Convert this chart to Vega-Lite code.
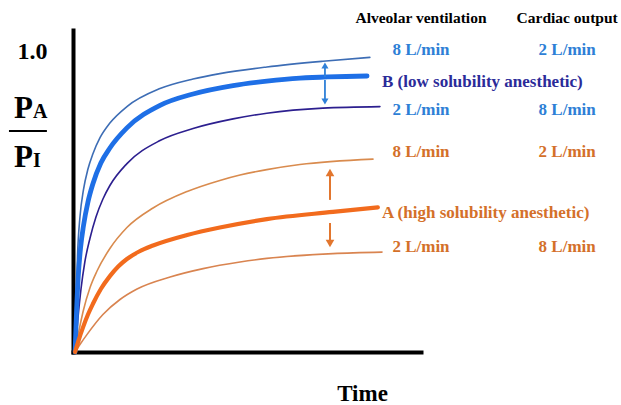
{
  "$schema": "https://vega.github.io/schema/vega-lite/v6.json",
  "width": 348,
  "height": 322,
  "autosize": {"type": "none"},
  "padding": {"left": 73, "top": 30, "right": 200, "bottom": 53},
  "background": "white",
  "config": {"view": {"stroke": null}},
  "datasets": {
    "curves": [
      {"series": "c1", "t": 0.6, "v": 0},
      {"series": "c1", "t": 0.9, "v": 0.15},
      {"series": "c1", "t": 1.3, "v": 0.32},
      {"series": "c1", "t": 2.0, "v": 0.45},
      {"series": "c1", "t": 3.0, "v": 0.54},
      {"series": "c1", "t": 4.3, "v": 0.61},
      {"series": "c1", "t": 5.7, "v": 0.66},
      {"series": "c1", "t": 7.8, "v": 0.715},
      {"series": "c1", "t": 10.6, "v": 0.763},
      {"series": "c1", "t": 15.5, "v": 0.818},
      {"series": "c1", "t": 25, "v": 0.878},
      {"series": "c1", "t": 34.5, "v": 0.91},
      {"series": "c1", "t": 42.2, "v": 0.928},
      {"series": "c1", "t": 55.7, "v": 0.95},
      {"series": "c1", "t": 71.8, "v": 0.969},
      {"series": "c1", "t": 85.3, "v": 0.982},
      {"series": "c2", "t": 0.6, "v": 0},
      {"series": "c2", "t": 1.0, "v": 0.13},
      {"series": "c2", "t": 1.5, "v": 0.25},
      {"series": "c2", "t": 2.2, "v": 0.35},
      {"series": "c2", "t": 3.0, "v": 0.42},
      {"series": "c2", "t": 4.3, "v": 0.5},
      {"series": "c2", "t": 5.7, "v": 0.56},
      {"series": "c2", "t": 8.0, "v": 0.63},
      {"series": "c2", "t": 10.6, "v": 0.68},
      {"series": "c2", "t": 15.5, "v": 0.747},
      {"series": "c2", "t": 25, "v": 0.822},
      {"series": "c2", "t": 34.5, "v": 0.86},
      {"series": "c2", "t": 46, "v": 0.888},
      {"series": "c2", "t": 55.7, "v": 0.903},
      {"series": "c2", "t": 65.2, "v": 0.913},
      {"series": "c2", "t": 84.5, "v": 0.92},
      {"series": "c3", "t": 0.6, "v": 0},
      {"series": "c3", "t": 1.4, "v": 0.11},
      {"series": "c3", "t": 2.3, "v": 0.21},
      {"series": "c3", "t": 3.4, "v": 0.3},
      {"series": "c3", "t": 4.9, "v": 0.38},
      {"series": "c3", "t": 6.6, "v": 0.45},
      {"series": "c3", "t": 8.6, "v": 0.51},
      {"series": "c3", "t": 10.6, "v": 0.555},
      {"series": "c3", "t": 15.5, "v": 0.628},
      {"series": "c3", "t": 25, "v": 0.705},
      {"series": "c3", "t": 34.5, "v": 0.745},
      {"series": "c3", "t": 46, "v": 0.777},
      {"series": "c3", "t": 55.7, "v": 0.796},
      {"series": "c3", "t": 71.8, "v": 0.813},
      {"series": "c3", "t": 88.2, "v": 0.818},
      {"series": "c4", "t": 0.6, "v": 0},
      {"series": "c4", "t": 1.7, "v": 0.07},
      {"series": "c4", "t": 2.9, "v": 0.135},
      {"series": "c4", "t": 4.9, "v": 0.215},
      {"series": "c4", "t": 6.9, "v": 0.27},
      {"series": "c4", "t": 10.6, "v": 0.345},
      {"series": "c4", "t": 15.5, "v": 0.415},
      {"series": "c4", "t": 23, "v": 0.48},
      {"series": "c4", "t": 32.8, "v": 0.535},
      {"series": "c4", "t": 42.2, "v": 0.572},
      {"series": "c4", "t": 48, "v": 0.59},
      {"series": "c4", "t": 55.7, "v": 0.608},
      {"series": "c4", "t": 65.2, "v": 0.625},
      {"series": "c4", "t": 86.2, "v": 0.643},
      {"series": "c5", "t": 0.6, "v": 0},
      {"series": "c5", "t": 1.5, "v": 0.035},
      {"series": "c5", "t": 2.9, "v": 0.083},
      {"series": "c5", "t": 4.3, "v": 0.125},
      {"series": "c5", "t": 5.7, "v": 0.16},
      {"series": "c5", "t": 8.0, "v": 0.21},
      {"series": "c5", "t": 10.6, "v": 0.253},
      {"series": "c5", "t": 13.0, "v": 0.285},
      {"series": "c5", "t": 15.5, "v": 0.31},
      {"series": "c5", "t": 19.0, "v": 0.335},
      {"series": "c5", "t": 23, "v": 0.355},
      {"series": "c5", "t": 32.8, "v": 0.39},
      {"series": "c5", "t": 42.2, "v": 0.415},
      {"series": "c5", "t": 55.7, "v": 0.443},
      {"series": "c5", "t": 74.7, "v": 0.467},
      {"series": "c5", "t": 87.6, "v": 0.482},
      {"series": "c6", "t": 0.6, "v": 0},
      {"series": "c6", "t": 2.0, "v": 0.025},
      {"series": "c6", "t": 4.0, "v": 0.058},
      {"series": "c6", "t": 8.6, "v": 0.125},
      {"series": "c6", "t": 13.5, "v": 0.175},
      {"series": "c6", "t": 18.4, "v": 0.21},
      {"series": "c6", "t": 27.9, "v": 0.25},
      {"series": "c6", "t": 37.4, "v": 0.278},
      {"series": "c6", "t": 48, "v": 0.3},
      {"series": "c6", "t": 55.7, "v": 0.312},
      {"series": "c6", "t": 74.7, "v": 0.328},
      {"series": "c6", "t": 88.8, "v": 0.333}
    ],
    "shafts": [
      {"group": "blue", "t": 72.4, "v1": 0.917, "v2": 0.955},
      {"group": "blue", "t": 72.4, "v1": 0.907, "v2": 0.835},
      {"group": "orange", "t": 73.85, "v1": 0.507, "v2": 0.598},
      {"group": "orange", "t": 73.85, "v1": 0.43, "v2": 0.362}
    ],
    "heads": [
      {"group": "blue", "dir": "up", "t": 72.4, "v": 0.955},
      {"group": "blue", "dir": "down", "t": 72.4, "v": 0.835},
      {"group": "orange", "dir": "up", "t": 73.85, "v": 0.598},
      {"group": "orange", "dir": "down", "t": 73.85, "v": 0.362}
    ],
    "labels": [
      {"role": "header", "text": "Alveolar ventilation", "t": 100, "v": 1.097},
      {"role": "header", "text": "Cardiac output", "t": 142, "v": 1.097},
      {"role": "blue", "text": "8 L/min", "t": 100, "v": 0.99},
      {"role": "blue", "text": "2 L/min", "t": 142, "v": 0.99},
      {"role": "blue", "text": "2 L/min", "t": 100, "v": 0.79},
      {"role": "blue", "text": "8 L/min", "t": 142, "v": 0.79},
      {"role": "bname", "text": "B (low solubility anesthetic)", "t": 88.8, "v": 0.883},
      {"role": "orange", "text": "8 L/min", "t": 100, "v": 0.65},
      {"role": "orange", "text": "2 L/min", "t": 142, "v": 0.65},
      {"role": "orange", "text": "2 L/min", "t": 100, "v": 0.333},
      {"role": "orange", "text": "8 L/min", "t": 142, "v": 0.333},
      {"role": "aname", "text": "A (high solubility anesthetic)", "t": 88.8, "v": 0.447},
      {"role": "big", "text": "P", "t": -11.5, "v": 0.78},
      {"role": "sub", "text": "A", "t": -11.5, "v": 0.78},
      {"role": "big", "text": "P", "t": -11.5, "v": 0.617},
      {"role": "sub", "text": "I", "t": -11.5, "v": 0.617}
    ],
    "fraction": [
      {"t1": -18.4, "t2": -7.5, "v": 0.737}
    ]
  },
  "layer": [
    {
      "data": {"name": "curves"},
      "transform": [{"filter": "datum.series !== 'c2' && datum.series !== 'c5'"}],
      "mark": {"type": "line", "interpolate": "monotone", "strokeCap": "round", "strokeWidth": 1.6},
      "encoding": {
        "x": {"field": "t", "type": "quantitative", "scale": {"domain": [0, 100], "nice": false, "zero": false},
              "axis": {"title": "Time", "labels": false, "ticks": false, "grid": false, "domainColor": "black", "domainWidth": 4, "domainCap": "square",
                       "titleFont": "Liberation Serif", "titleFontWeight": "bold", "titleFontSize": 23, "titleColor": "black",
                       "titleAnchor": null, "titleAlign": "center", "titleBaseline": "alphabetic", "titleX": 289, "titleY": 48}},
        "y": {"field": "v", "type": "quantitative", "scale": {"domain": [0, 1.0733], "nice": false},
              "axis": {"title": null, "values": [1], "format": ".1f", "ticks": false, "tickSize": 0, "grid": false, "labelPadding": 26,
                       "domainColor": "black", "domainWidth": 4, "domainCap": "square",
                       "labelFont": "Liberation Serif", "labelFontWeight": "bold", "labelFontSize": 24, "labelColor": "black"}},
        "detail": {"field": "series"},
        "color": {"field": "series", "type": "nominal", "legend": null,
                  "scale": {"domain": ["c1", "c2", "c3", "c4", "c5", "c6"], "range": ["#3d6db5", "#1e6fe6", "#2c1f8f", "#d98b4e", "#f26b1d", "#d98450"]}}
      }
    },
    {
      "data": {"name": "curves"},
      "transform": [{"filter": "datum.series === 'c2'"}],
      "mark": {"type": "line", "interpolate": "monotone", "strokeCap": "round", "strokeWidth": 4.8},
      "encoding": {
        "x": {"field": "t", "type": "quantitative"},
        "y": {"field": "v", "type": "quantitative"},
        "color": {"field": "series", "type": "nominal", "legend": null}
      }
    },
    {
      "data": {"name": "curves"},
      "transform": [{"filter": "datum.series === 'c5'"}],
      "mark": {"type": "line", "interpolate": "monotone", "strokeCap": "round", "strokeWidth": 4.2},
      "encoding": {
        "x": {"field": "t", "type": "quantitative"},
        "y": {"field": "v", "type": "quantitative"},
        "color": {"field": "series", "type": "nominal", "legend": null}
      }
    },
    {
      "data": {"name": "shafts"},
      "transform": [{"filter": "datum.group === 'blue'"}],
      "mark": {"type": "rule", "color": "#2f80d8", "strokeWidth": 1.8},
      "encoding": {"x": {"field": "t", "type": "quantitative"}, "y": {"field": "v1", "type": "quantitative"}, "y2": {"field": "v2"}}
    },
    {
      "data": {"name": "shafts"},
      "transform": [{"filter": "datum.group === 'orange'"}],
      "mark": {"type": "rule", "color": "#e2762e", "strokeWidth": 2},
      "encoding": {"x": {"field": "t", "type": "quantitative"}, "y": {"field": "v1", "type": "quantitative"}, "y2": {"field": "v2"}}
    },
    {
      "data": {"name": "heads"},
      "transform": [{"filter": "datum.group === 'blue'"}],
      "mark": {"type": "point", "filled": true, "color": "#2f80d8", "size": 50, "opacity": 1},
      "encoding": {"x": {"field": "t", "type": "quantitative"}, "y": {"field": "v", "type": "quantitative"},
                   "shape": {"field": "dir", "type": "nominal", "legend": null, "scale": {"domain": ["up", "down"], "range": ["triangle-up", "triangle-down"]}}}
    },
    {
      "data": {"name": "heads"},
      "transform": [{"filter": "datum.group === 'orange'"}],
      "mark": {"type": "point", "filled": true, "color": "#e2762e", "size": 75, "opacity": 1},
      "encoding": {"x": {"field": "t", "type": "quantitative"}, "y": {"field": "v", "type": "quantitative"},
                   "shape": {"field": "dir", "type": "nominal", "legend": null, "scale": {"domain": ["up", "down"], "range": ["triangle-up", "triangle-down"]}}}
    },
    {
      "data": {"name": "fraction"},
      "mark": {"type": "rule", "color": "black", "strokeWidth": 2},
      "encoding": {"x": {"field": "t1", "type": "quantitative"}, "x2": {"field": "t2"}, "y": {"field": "v", "type": "quantitative"}}
    },
    {
      "data": {"name": "labels"},
      "transform": [{"filter": "datum.role === 'header'"}],
      "mark": {"type": "text", "font": "Liberation Serif", "fontWeight": "bold", "fontSize": 15.5, "color": "black", "align": "center", "baseline": "alphabetic"},
      "encoding": {"x": {"field": "t", "type": "quantitative"}, "y": {"field": "v", "type": "quantitative"}, "text": {"field": "text"}}
    },
    {
      "data": {"name": "labels"},
      "transform": [{"filter": "datum.role === 'blue'"}],
      "mark": {"type": "text", "font": "Liberation Serif", "fontWeight": "bold", "fontSize": 17, "color": "#2e7fd6", "align": "center", "baseline": "alphabetic"},
      "encoding": {"x": {"field": "t", "type": "quantitative"}, "y": {"field": "v", "type": "quantitative"}, "text": {"field": "text"}}
    },
    {
      "data": {"name": "labels"},
      "transform": [{"filter": "datum.role === 'bname'"}],
      "mark": {"type": "text", "font": "Liberation Serif", "fontWeight": "bold", "fontSize": 17, "color": "#2b2b99", "align": "left", "baseline": "alphabetic"},
      "encoding": {"x": {"field": "t", "type": "quantitative"}, "y": {"field": "v", "type": "quantitative"}, "text": {"field": "text"}}
    },
    {
      "data": {"name": "labels"},
      "transform": [{"filter": "datum.role === 'orange'"}],
      "mark": {"type": "text", "font": "Liberation Serif", "fontWeight": "bold", "fontSize": 17, "color": "#d4702a", "align": "center", "baseline": "alphabetic"},
      "encoding": {"x": {"field": "t", "type": "quantitative"}, "y": {"field": "v", "type": "quantitative"}, "text": {"field": "text"}}
    },
    {
      "data": {"name": "labels"},
      "transform": [{"filter": "datum.role === 'aname'"}],
      "mark": {"type": "text", "font": "Liberation Serif", "fontWeight": "bold", "fontSize": 17, "color": "#d4702a", "align": "left", "baseline": "alphabetic"},
      "encoding": {"x": {"field": "t", "type": "quantitative"}, "y": {"field": "v", "type": "quantitative"}, "text": {"field": "text"}}
    },
    {
      "data": {"name": "labels"},
      "transform": [{"filter": "datum.role === 'big'"}],
      "mark": {"type": "text", "font": "Liberation Serif", "fontWeight": "bold", "fontSize": 31, "color": "black", "align": "right", "baseline": "alphabetic"},
      "encoding": {"x": {"field": "t", "type": "quantitative"}, "y": {"field": "v", "type": "quantitative"}, "text": {"field": "text"}}
    },
    {
      "data": {"name": "labels"},
      "transform": [{"filter": "datum.role === 'sub'"}],
      "mark": {"type": "text", "font": "Liberation Serif", "fontWeight": "bold", "fontSize": 20, "color": "black", "align": "left", "baseline": "alphabetic"},
      "encoding": {"x": {"field": "t", "type": "quantitative"}, "y": {"field": "v", "type": "quantitative"}, "text": {"field": "text"}}
    }
  ]
}
